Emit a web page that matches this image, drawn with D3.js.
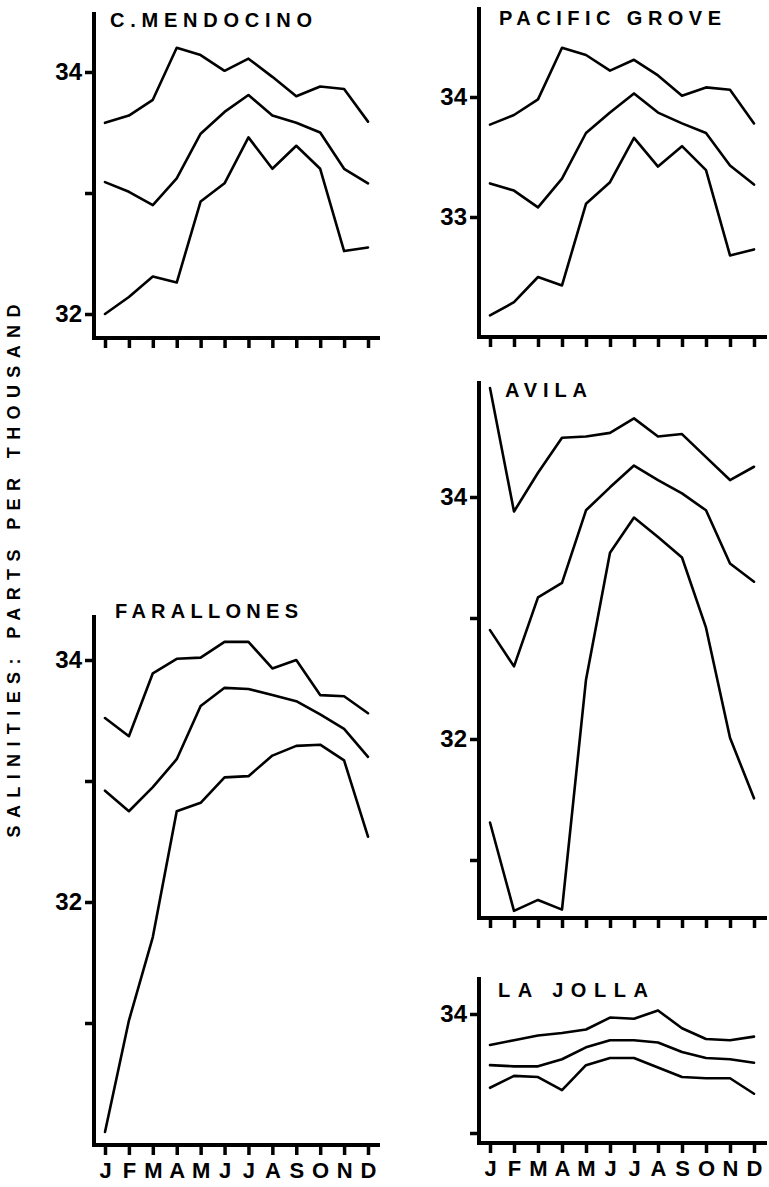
<!DOCTYPE html>
<html>
<head>
<meta charset="utf-8">
<script src="https://cdn.jsdelivr.net/npm/d3@7"></script>
<style>
  html, body { margin: 0; padding: 0; background: #fff; }
  svg { display: block; }
  text { font-family: 'Liberation Sans', Arial, sans-serif; font-weight: bold; fill: #000; }
</style>
</head>
<body>
<svg id="chart" width="769" height="1187"></svg>
<script>
'use strict';

// ── Data (salinity, parts per thousand; max / mean / min by month) ─────────
const MONTHS = ['J', 'F', 'M', 'A', 'M', 'J', 'J', 'A', 'S', 'O', 'N', 'D'];

const MENDOCINO_MAX  = [33.58, 33.64, 33.77, 34.20, 34.14, 34.01, 34.11, 33.96, 33.80, 33.88, 33.86, 33.59];
const MENDOCINO_MEAN = [33.09, 33.01, 32.90, 33.12, 33.49, 33.67, 33.81, 33.64, 33.58, 33.50, 33.20, 33.08];
const MENDOCINO_MIN  = [32.00, 32.14, 32.31, 32.26, 32.93, 33.08, 33.46, 33.20, 33.39, 33.20, 32.52, 32.55];

const PACGROVE_MAX  = [33.77, 33.85, 33.98, 34.41, 34.35, 34.22, 34.31, 34.18, 34.01, 34.08, 34.06, 33.78];
const PACGROVE_MEAN = [33.28, 33.22, 33.08, 33.32, 33.70, 33.87, 34.03, 33.87, 33.78, 33.70, 33.43, 33.27];
const PACGROVE_MIN  = [32.18, 32.29, 32.50, 32.43, 33.11, 33.29, 33.66, 33.42, 33.59, 33.39, 32.68, 32.73];

const AVILA_MAX  = [34.90, 33.88, 34.20, 34.49, 34.50, 34.53, 34.65, 34.50, 34.52, 34.33, 34.14, 34.25];
const AVILA_MEAN = [32.90, 32.60, 33.17, 33.29, 33.89, 34.08, 34.26, 34.14, 34.03, 33.89, 33.45, 33.30];
const AVILA_MIN  = [31.31, 30.58, 30.67, 30.59, 32.49, 33.54, 33.83, 33.67, 33.50, 32.92, 32.01, 31.51];

const FARALLONES_MAX  = [33.52, 33.37, 33.89, 34.01, 34.02, 34.15, 34.15, 33.93, 34.00, 33.71, 33.70, 33.56];
const FARALLONES_MEAN = [32.92, 32.75, 32.95, 33.18, 33.62, 33.77, 33.76, 33.71, 33.66, 33.55, 33.43, 33.20];
const FARALLONES_MIN  = [30.10, 31.02, 31.71, 32.75, 32.82, 33.03, 33.04, 33.21, 33.29, 33.30, 33.17, 32.54];

const LAJOLLA_MAX  = [33.74, 33.78, 33.82, 33.84, 33.87, 33.97, 33.96, 34.03, 33.88, 33.79, 33.78, 33.81];
const LAJOLLA_MEAN = [33.57, 33.56, 33.56, 33.62, 33.72, 33.78, 33.78, 33.76, 33.68, 33.63, 33.62, 33.59];
const LAJOLLA_MIN  = [33.38, 33.48, 33.47, 33.36, 33.57, 33.63, 33.63, 33.55, 33.47, 33.46, 33.46, 33.33];

const Y_LABEL = 'SALINITIES:  PARTS  PER  THOUSAND';

// ── Layout ─────────────────────────────────────────────────────────────────
const LEFT  = { x0: 94,  xr: 380, m0: 105, m1: 368 };
const RIGHT = { x0: 479, xr: 767, m0: 490, m1: 754 };

const panels = [
  { name: 'C.MENDOCINO', col: LEFT, top: 12, bottom: 338, p34: 72, ppu: 121,
    ticks: [34, 33, 32], labels: [34, 32], tx: 110, ty: 27, tw: 202, months: false,
    series: [MENDOCINO_MAX, MENDOCINO_MEAN, MENDOCINO_MIN] },
  { name: 'PACIFIC  GROVE', col: RIGHT, top: 7, bottom: 337, p34: 97, ppu: 120,
    ticks: [34, 33], labels: [34, 33], tx: 499, ty: 25, tw: 222, months: false,
    series: [PACGROVE_MAX, PACGROVE_MEAN, PACGROVE_MIN] },
  { name: 'AVILA', col: RIGHT, top: 381, bottom: 918, p34: 497, ppu: 121,
    ticks: [34, 33, 32, 31], labels: [34, 32], tx: 505, ty: 397, tw: 82, months: false,
    series: [AVILA_MAX, AVILA_MEAN, AVILA_MIN] },
  { name: 'FARALLONES', col: LEFT, top: 615, bottom: 1145, p34: 660, ppu: 121,
    ticks: [34, 33, 32, 31], labels: [34, 32], tx: 115, ty: 618, tw: 183, months: true,
    series: [FARALLONES_MAX, FARALLONES_MEAN, FARALLONES_MIN] },
  { name: 'LA  JOLLA', col: RIGHT, top: 977, bottom: 1143, p34: 1014, ppu: 119,
    ticks: [34, 33], labels: [34], tx: 498, ty: 997, tw: 150, months: true,
    series: [LAJOLLA_MAX, LAJOLLA_MEAN, LAJOLLA_MIN] },
];

const svg = d3.select('#chart');

// ── Panels ─────────────────────────────────────────────────────────────────
panels.forEach(p => {
  const x = d3.scalePoint()
    .domain(d3.range(MONTHS.length))
    .range([p.col.m0, p.col.m1]);

  const y = d3.scaleLinear()
    .domain([34, 33])
    .range([p.p34, p.p34 + p.ppu]);

  const g = svg.append('g');

  // frame (y axis + x axis line)
  g.append('path')
    .attr('d', `M${p.col.x0},${p.top} L${p.col.x0},${p.bottom} L${p.col.xr},${p.bottom}`)
    .attr('fill', 'none')
    .attr('stroke', '#000')
    .attr('stroke-width', 4)
    .attr('stroke-linejoin', 'miter');

  // y ticks
  const ya = g.append('g')
    .attr('transform', `translate(${p.col.x0},0)`)
    .call(d3.axisLeft(y)
      .tickValues(p.ticks)
      .tickSize(9)
      .tickPadding(3)
      .tickFormat(v => p.labels.includes(v) ? String(v) : ''));
  ya.select('.domain').remove();
  ya.selectAll('line').attr('stroke', '#000').attr('stroke-width', 3.5);
  ya.selectAll('text')
    .attr('fill', '#000')
    .attr('font-size', '24px')
    .attr('font-family', "'Liberation Sans', Arial, sans-serif")
    .attr('font-weight', 'bold');

  // x ticks
  const xa = g.append('g')
    .attr('transform', `translate(0,${p.bottom})`)
    .call(d3.axisBottom(x)
      .tickSize(10)
      .tickPadding(7)
      .tickFormat(i => p.months ? MONTHS[i] : ''));
  xa.select('.domain').remove();
  xa.selectAll('line').attr('stroke', '#000').attr('stroke-width', 3.5);
  xa.selectAll('text')
    .attr('fill', '#000')
    .attr('font-size', '22px')
    .attr('font-family', "'Liberation Sans', Arial, sans-serif")
    .attr('font-weight', 'bold');

  // station title
  g.append('text')
    .attr('x', p.tx)
    .attr('y', p.ty)
    .attr('font-size', '20px')
    .attr('textLength', p.tw)
    .attr('lengthAdjust', 'spacing')
    .text(p.name);

  // max / mean / min curves
  const line = d3.line()
    .x((d, i) => x(i))
    .y(d => y(d));

  g.selectAll('path.curve')
    .data(p.series)
    .join('path')
    .attr('class', 'curve')
    .attr('d', line)
    .attr('fill', 'none')
    .attr('stroke', '#000')
    .attr('stroke-width', 2.6)
    .attr('stroke-linejoin', 'round')
    .attr('stroke-linecap', 'round');
});

// ── Shared y-axis title ────────────────────────────────────────────────────
svg.append('text')
  .attr('transform', 'translate(20,571) rotate(-90)')
  .attr('text-anchor', 'middle')
  .attr('font-size', '18px')
  .attr('textLength', 533)
  .attr('lengthAdjust', 'spacing')
  .text(Y_LABEL);
</script>
</body>
</html>
